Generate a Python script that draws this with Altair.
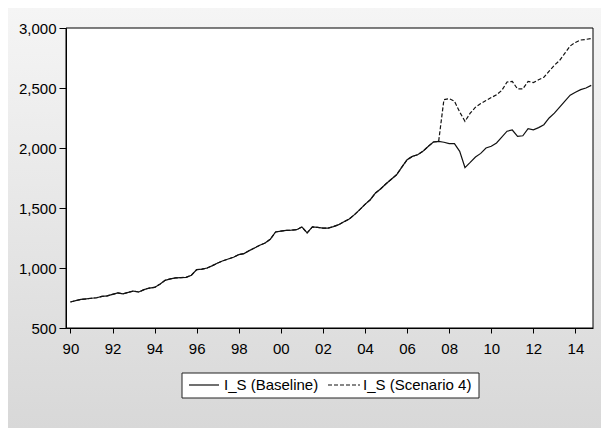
#%%
import pandas as pd
import altair as alt

#%%
# Quarterly series 1990Q1 - 2014Q4
baseline = [
    717, 728, 738, 742,      # 1990
    748, 752, 763, 768,      # 1991
    780, 792, 785, 797,      # 1992
    808, 800, 820, 833,      # 1993
    838, 865, 897, 910,      # 1994
    917, 920, 922, 940,      # 1995
    986, 990, 1000, 1020,    # 1996
    1042, 1060, 1075, 1090,  # 1997
    1111, 1120, 1145, 1167,  # 1998
    1190, 1208, 1240, 1300,  # 1999
    1308, 1313, 1315, 1319,  # 2000
    1342, 1292, 1342, 1338,  # 2001
    1333, 1333, 1345, 1361,  # 2002
    1385, 1408, 1445, 1486,  # 2003
    1530, 1569, 1625, 1660,  # 2004
    1702, 1740, 1777, 1840,  # 2005
    1902, 1930, 1944, 1972,  # 2006
    2013, 2050, 2055, 2048,  # 2007
    2036, 2036, 1972, 1837,  # 2008
    1880, 1925, 1955, 2000,  # 2009
    2015, 2042, 2090, 2140,  # 2010
    2150, 2097, 2102, 2161,  # 2011
    2152, 2170, 2194, 2250,  # 2012
    2290, 2340, 2390, 2440,  # 2013
    2465, 2486, 2500, 2522,  # 2014
]

# Scenario 4 only departs from the baseline from 2007Q4 on
scenario_start = 71
scenario_tail = [
    2403,                    # 2007Q4
    2411, 2390, 2300, 2222,  # 2008
    2290, 2340, 2370, 2395,  # 2009
    2420, 2444, 2480, 2550,  # 2010
    2555, 2492, 2492, 2555,  # 2011
    2545, 2569, 2590, 2640,  # 2012
    2690, 2730, 2790, 2850,  # 2013
    2880, 2900, 2905, 2912,  # 2014
]

y_ticks = [500, 1000, 1500, 2000, 2500, 3000]

#%%
quarters = [y + q / 4 for y in range(1990, 2015) for q in range(4)]
scenario = baseline[:scenario_start] + scenario_tail

df = pd.DataFrame({"t": quarters, "baseline": baseline, "scenario": scenario})
one = pd.DataFrame({"a": [0]})

W, H = 527, 300
FONT = "Liberation Sans"

x_enc = alt.X("t:Q",
    scale=alt.Scale(domain=[1989.79, 2014.835], nice=False, zero=False),
    axis=alt.Axis(
        values=quarters, title=None, grid=False, zindex=2,
        labelExpr="datum.value % 2 == 0 ? format(datum.value % 100, '02d') : ''",
        labelOverlap=False, labelFlush=False,
        tickSize={"condition": {"test": "datum.value % 1 == 0", "value": 5}, "value": 3},
        labelPadding=8))
y_enc = alt.Y("baseline:Q",
    scale=alt.Scale(domain=[500, 3000], nice=False, zero=False),
    axis=alt.Axis(values=y_ticks, format=",d", title=None, grid=False, zindex=2,
        tickSize=7, labelPadding=3))

#%%
# grey gradient backdrop + white plotting area
backdrop = (alt.Chart(one)
    .mark_rect(fill=alt.Gradient(
        gradient="linear",
        stops=[alt.GradientStop(color="#f5f5f5", offset=0),
               alt.GradientStop(color="#d8d8d8", offset=1)],
        x1=0, x2=0, y1=0, y2=1))
    .encode(x=alt.value(-58), x2=alt.value(W + 8), y=alt.value(-20), y2=alt.value(H + 100)))
plot_bg = (alt.Chart(one)
    .mark_rect(fill="white")
    .encode(x=alt.value(0), x2=alt.value(W), y=alt.value(0), y2=alt.value(H)))

base_line = (alt.Chart(df)
    .mark_line(color="#111111", strokeWidth=1.2)
    .encode(x=x_enc, y=y_enc))
scen_line = (alt.Chart(df)
    .mark_line(color="#111111", strokeWidth=1.2, strokeDash=[4, 2])
    .encode(x="t:Q", y="scenario:Q"))

# black frame round the plotting area
frame = (alt.Chart(one)
    .mark_rect(fill=None, fillOpacity=0, stroke="#000000", strokeWidth=1)
    .encode(x=alt.value(0), x2=alt.value(W), y=alt.value(0), y2=alt.value(H)))

#%%
# legend box drawn by hand, EViews style
leg_box = (alt.Chart(one)
    .mark_rect(fill="white", stroke="#222222", strokeWidth=1)
    .encode(x=alt.value(116), x2=alt.value(413), y=alt.value(345), y2=alt.value(370)))
leg_solid = (alt.Chart(one)
    .mark_rule(color="#111111", strokeWidth=1.2)
    .encode(x=alt.value(123), x2=alt.value(153), y=alt.value(357)))
leg_dash = (alt.Chart(one)
    .mark_rule(color="#111111", strokeWidth=1.2, strokeDash=[4, 2])
    .encode(x=alt.value(262), x2=alt.value(294), y=alt.value(357)))
leg_txt1 = (alt.Chart(one)
    .mark_text(text="I_S (Baseline)", align="left", baseline="middle",
               font=FONT, fontSize=15, color="#000000")
    .encode(x=alt.value(158), y=alt.value(357)))
leg_txt2 = (alt.Chart(one)
    .mark_text(text="I_S (Scenario 4)", align="left", baseline="middle",
               font=FONT, fontSize=15, color="#000000")
    .encode(x=alt.value(297), y=alt.value(357)))

#%%
chart = (alt.layer(backdrop, plot_bg, base_line, scen_line, frame,
                   leg_box, leg_solid, leg_dash, leg_txt1, leg_txt2)
    .properties(width=W, height=H,
                autosize=alt.AutoSizeParams(type="none"),
                padding={"left": 58, "top": 20, "right": 8, "bottom": 100})
    .configure(background="white")
    .configure_view(stroke=None)
    .configure_axis(domainColor="#000000", tickColor="#000000", labelColor="#000000",
                    labelFont=FONT, labelFontSize=15))

chart.save("out.html", embed_options={"renderer": "svg", "actions": False})
